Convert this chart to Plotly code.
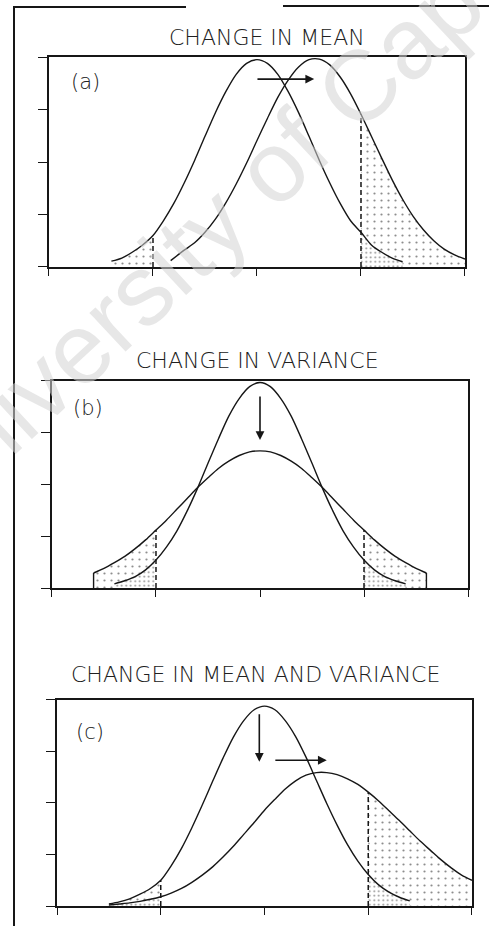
import plotly.graph_objects as go

# Extreme-event thresholds on the standardized axis
LOW, HIGH = -1.0, 1.0

# ---- (a) change in mean -------------------------------------------------
a_before_x = [-1.4, -1.3, -1.2, -1.1, -1.0, -0.9, -0.8, -0.7, -0.6, -0.5, -0.4, -0.3, -0.2, -0.1, 0.0,
              0.1, 0.2, 0.3, 0.4, 0.5, 0.6, 0.7, 0.8, 0.9, 1.0, 1.1, 1.2, 1.3, 1.4]
a_before_y = [0.11, 0.17, 0.28, 0.42, 0.60, 0.88, 1.21, 1.60, 2.03, 2.49, 2.94, 3.34, 3.67, 3.88, 3.95,
              3.88, 3.67, 3.34, 2.94, 2.49, 2.03, 1.60, 1.21, 0.88, 0.66, 0.42, 0.28, 0.17, 0.10]
a_after_x = [-0.83, -0.7, -0.6, -0.5, -0.4, -0.3, -0.2, -0.1, 0.0, 0.1, 0.2, 0.3, 0.4, 0.5, 0.6,
             0.7, 0.8, 0.9, 1.0, 1.1, 1.2, 1.3, 1.4, 1.5, 1.6, 1.7, 1.8, 1.9, 2.0]
a_after_y = [0.12, 0.32, 0.46, 0.66, 0.91, 1.22, 1.58, 1.98, 2.41, 2.83, 3.23, 3.56, 3.81, 3.95, 3.96,
             3.85, 3.62, 3.30, 2.91, 2.49, 2.07, 1.66, 1.29, 0.97, 0.71, 0.50, 0.34, 0.23, 0.15]

# ---- (b) change in variance ---------------------------------------------
b_narrow_x = [-1.4, -1.3, -1.2, -1.1, -1.0, -0.9, -0.8, -0.7, -0.6, -0.5, -0.4, -0.3, -0.2, -0.1, 0.0,
              0.1, 0.2, 0.3, 0.4, 0.5, 0.6, 0.7, 0.8, 0.9, 1.0, 1.1, 1.2, 1.3, 1.4]
b_narrow_y = [0.08, 0.14, 0.22, 0.35, 0.54, 0.79, 1.10, 1.49, 1.93, 2.41, 2.88, 3.32, 3.66, 3.89, 3.97,
              3.89, 3.66, 3.32, 2.88, 2.41, 1.93, 1.49, 1.10, 0.79, 0.54, 0.35, 0.22, 0.14, 0.08]
b_wide_x = [-1.6, -1.5, -1.4, -1.3, -1.2, -1.1, -1.0, -0.9, -0.8, -0.7, -0.6, -0.5, -0.4, -0.3, -0.2, -0.1,
            0.0, 0.1, 0.2, 0.3, 0.4, 0.5, 0.6, 0.7, 0.8, 0.9, 1.0, 1.1, 1.2, 1.3, 1.4, 1.5, 1.6]
b_wide_y = [0.29, 0.38, 0.49, 0.61, 0.76, 0.93, 1.12, 1.31, 1.52, 1.73, 1.94, 2.13, 2.31, 2.45, 2.56, 2.63,
            2.65, 2.63, 2.56, 2.45, 2.31, 2.13, 1.94, 1.73, 1.52, 1.31, 1.12, 0.93, 0.76, 0.61, 0.49, 0.38, 0.29]

# ---- (c) change in mean and variance ------------------------------------
c_narrow_x = [-1.5, -1.4, -1.3, -1.2, -1.1, -1.0, -0.9, -0.8, -0.7, -0.6, -0.5, -0.4, -0.3, -0.2, -0.1, 0.0,
              0.1, 0.2, 0.3, 0.4, 0.5, 0.6, 0.7, 0.8, 0.9, 1.0, 1.1, 1.2, 1.3, 1.4]
c_narrow_y = [0.04, 0.08, 0.14, 0.23, 0.34, 0.50, 0.78, 1.12, 1.52, 1.96, 2.42, 2.87, 3.28, 3.60, 3.81, 3.88,
              3.81, 3.60, 3.29, 2.89, 2.44, 1.99, 1.57, 1.19, 0.87, 0.61, 0.41, 0.27, 0.17, 0.10]
c_wide_x = [-1.5, -1.4, -1.3, -1.2, -1.1, -1.0, -0.9, -0.8, -0.7, -0.6, -0.5, -0.4, -0.3, -0.2, -0.1, 0.0,
            0.1, 0.2, 0.3, 0.4, 0.5, 0.6, 0.7, 0.8, 0.9, 1.0, 1.1, 1.2, 1.3, 1.4, 1.5, 1.6, 1.7, 1.8, 1.9, 2.0]
c_wide_y = [0.02, 0.04, 0.06, 0.09, 0.13, 0.18, 0.25, 0.34, 0.46, 0.60, 0.76, 0.95, 1.16, 1.39, 1.62, 1.86,
            2.07, 2.27, 2.43, 2.54, 2.59, 2.59, 2.55, 2.47, 2.36, 2.21, 2.04, 1.85, 1.66, 1.46, 1.26, 1.08,
            0.90, 0.74, 0.60, 0.50]

# Shift / shrink arrows: (tail x, tail y, head x, head y)
a_arrows = [(-0.01, 3.58, 0.55, 3.58)]
b_arrows = [(0.0, 3.73, 0.0, 2.86)]
c_arrows = [(-0.05, 3.75, -0.05, 2.80), (0.09, 2.83, 0.60, 2.83)]

titles = ["CHANGE IN MEAN", "CHANGE IN VARIANCE", "CHANGE IN MEAN AND VARIANCE"]
labels = ["(a)", "(b)", "(c)"]
x_ticks = [-2, -1, 0, 1, 2]
y_ticks = [0, 1, 2, 3, 4]

INK = "#161616"
FONT = "DejaVu Sans"

# panel geometry (paper fractions)
panels = [
    dict(curves=[(a_before_x, a_before_y), (a_after_x, a_after_y)],
         upper_low=0, lower_low=None, upper_high=1, lower_high=0,
         low_line=0, high_line=1, edge_curve=None, arrows=a_arrows,
         xdom=[0.1002, 0.9509], ydom=[0.7117, 0.9384],
         title_xy=(0.546, 0.960), label_xy=(0.174, 0.9114)),
    dict(curves=[(b_narrow_x, b_narrow_y), (b_wide_x, b_wide_y)],
         upper_low=1, lower_low=0, upper_high=1, lower_high=0,
         low_line=1, high_line=1, edge_curve=1, arrows=b_arrows,
         xdom=[0.1063, 0.9571], ydom=[0.3650, 0.5886],
         title_xy=(0.5256, 0.6102), label_xy=(0.180, 0.5594)),
    dict(curves=[(c_narrow_x, c_narrow_y), (c_wide_x, c_wide_y)],
         upper_low=0, lower_low=1, upper_high=1, lower_high=0,
         low_line=0, high_line=1, edge_curve=None, arrows=c_arrows,
         xdom=[0.1166, 0.9652], ydom=[0.0216, 0.2441],
         title_xy=(0.5235, 0.2721), label_xy=(0.184, 0.2095)),
]


def tail(xs, ys, side):
    """Points of a curve lying beyond a threshold (grid contains the threshold)."""
    if side == "low":
        pts = [(x, y) for x, y in zip(xs, ys) if x <= LOW + 1e-9]
    else:
        pts = [(x, y) for x, y in zip(xs, ys) if x >= HIGH - 1e-9]
    return [p[0] for p in pts], [p[1] for p in pts]


def value_at(xs, ys, x0):
    for x, y in zip(xs, ys):
        if abs(x - x0) < 1e-9:
            return y
    return None


SPARSE = dict(shape=".", fgcolor=INK, bgcolor="rgba(0,0,0,0)", size=7, solidity=0.08)
DENSE = dict(shape=".", fgcolor=INK, bgcolor="white", size=4.5, solidity=0.15)

fig = go.Figure()
annotations = []
layout_axes = {}

for i, p in enumerate(panels):
    n = "" if i == 0 else str(i + 1)
    xa, ya = "x" + n, "y" + n

    # dotted tail areas: sparse under the outer curve, dense under the inner one
    for side, up_key, lo_key in (("low", "upper_low", "lower_low"), ("high", "upper_high", "lower_high")):
        for key, pat in ((up_key, SPARSE), (lo_key, DENSE)):
            idx = p[key]
            if idx is None:
                continue
            tx, ty = tail(*p["curves"][idx], side)
            if len(tx) < 2:
                continue
            fig.add_trace(go.Scatter(x=tx, y=ty, xaxis=xa, yaxis=ya, mode="lines",
                                     line=dict(width=0, shape="spline"), fill="tozeroy",
                                     fillpattern=pat, fillcolor="rgba(0,0,0,0)",
                                     hoverinfo="skip"))

    # the distributions
    for k, (cx, cy) in enumerate(p["curves"]):
        fig.add_trace(go.Scatter(x=cx, y=cy, xaxis=xa, yaxis=ya, mode="lines",
                                 line=dict(color=INK, width=1.4, shape="spline", smoothing=0.8),
                                 hoverinfo="skip"))
        if p["edge_curve"] == k:
            for j in (0, -1):
                fig.add_trace(go.Scatter(x=[cx[j], cx[j]], y=[0, cy[j]], xaxis=xa, yaxis=ya,
                                         mode="lines", line=dict(color=INK, width=1.4),
                                         hoverinfo="skip"))

    # threshold markers
    for thr, key in ((LOW, "low_line"), (HIGH, "high_line")):
        cx, cy = p["curves"][p[key]]
        top = value_at(cx, cy, thr)
        fig.add_trace(go.Scatter(x=[thr, thr], y=[0, top], xaxis=xa, yaxis=ya, mode="lines",
                                 line=dict(color=INK, width=1.5, dash="5px,3px"),
                                 hoverinfo="skip"))

    # arrows
    for x0, y0, x1, y1 in p["arrows"]:
        annotations.append(dict(x=x1, y=y1, ax=x0, ay=y0, xref=xa, yref=ya, axref=xa, ayref=ya,
                                text="", showarrow=True, arrowhead=2, arrowsize=1.1,
                                arrowwidth=1.6, arrowcolor=INK))

    tx, ty = p["title_xy"]
    annotations.append(dict(x=tx, y=ty, xref="paper", yref="paper", text=titles[i],
                            showarrow=False, xanchor="center", yanchor="middle",
                            font=dict(family=FONT, size=22, color="#202020", weight=300)))
    lx, ly = p["label_xy"]
    annotations.append(dict(x=lx, y=ly, xref="paper", yref="paper", text=labels[i],
                            showarrow=False, xanchor="center", yanchor="middle",
                            font=dict(family=FONT, size=21, color="#202020", weight=300)))

    axis_common = dict(showline=True, linecolor=INK, linewidth=1.5, mirror=True,
                       ticks="outside", tickcolor=INK, tickwidth=1.3,
                       showticklabels=False, showgrid=False, zeroline=False, fixedrange=True)
    layout_axes["xaxis" + n] = dict(axis_common, domain=p["xdom"], range=[-2, 2],
                                    tickvals=x_ticks, ticklen=7, anchor=ya)
    layout_axes["yaxis" + n] = dict(axis_common, domain=p["ydom"], range=[0, 4],
                                    tickvals=y_ticks, ticklen=9, anchor=xa)

# repository watermark
annotations.append(dict(x=0.62, y=0.851, xref="paper", yref="paper",
                        text="University of Cape Town", showarrow=False,
                        xanchor="center", yanchor="middle", textangle=-43,
                        font=dict(family="Liberation Sans", size=100, color="#d4d4d4"),
                        opacity=0.55))

# page frame
frame = [
    dict(type="line", xref="paper", yref="paper", x0=14 / 489, x1=14 / 489, y0=1 - 7 / 926, y1=0,
         line=dict(color=INK, width=2)),
    dict(type="line", xref="paper", yref="paper", x0=13 / 489, x1=186 / 489, y0=1 - 7 / 926, y1=1 - 7 / 926,
         line=dict(color=INK, width=2)),
    dict(type="line", xref="paper", yref="paper", x0=283 / 489, x1=1, y0=1 - 6 / 926, y1=1 - 6 / 926,
         line=dict(color=INK, width=2)),
]

fig.update_layout(width=489, height=926, margin=dict(l=0, r=0, t=0, b=0),
                  paper_bgcolor="white", plot_bgcolor="white", showlegend=False,
                  annotations=annotations, shapes=frame, **layout_axes)

fig.write_html("out.html", config={"displayModeBar": False})
